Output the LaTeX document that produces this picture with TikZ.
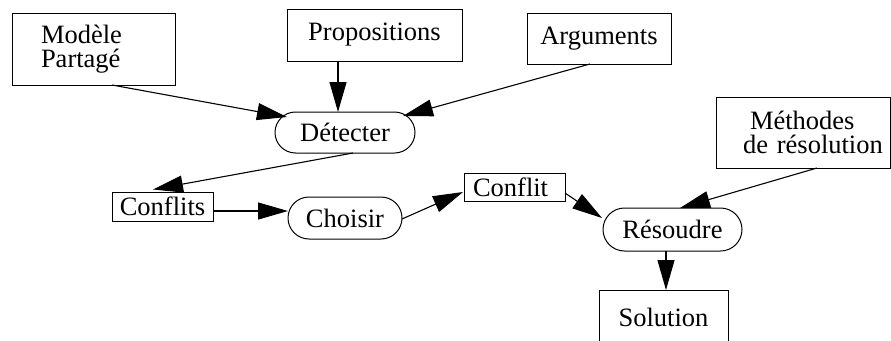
\documentclass[tikz,border=0pt]{standalone}
\usepackage{fontspec}
\setmainfont{Liberation Serif}
\usetikzlibrary{arrows.meta,shapes.misc,calc}
\tikzset{
  lbl/.style={font=\fontsize{26.5}{24}\selectfont},
  databox/.style={lbl,draw,line width=1pt,rectangle,inner sep=0pt},
  actbox/.style={lbl,draw,line width=1pt,rounded rectangle,inner sep=0pt},
  flow/.style={line width=1.1pt,-{Triangle[length=30pt,width=17pt]}}
}
\begin{document}
\begin{tikzpicture}[x=1pt,y=-1pt]
\useasboundingbox (0,0) rectangle (891,340);

% data stores (rectangles)
\node[databox,minimum width=163pt,minimum height=72pt,inner xsep=29pt,text width=105pt,align=left]
  (mod) at (93.5,49) {Modèle\\Partagé};
\node[databox,minimum width=175pt,minimum height=52pt] (prop) at (374.5,35) {Propositions};
\node[databox,minimum width=144pt,minimum height=51pt] (arg) at (599,38.5) {Arguments};
\node[databox,minimum width=101pt,minimum height=29pt] (cfs) at (162.5,206.5) {Conflits};
\node[databox,minimum width=101pt,minimum height=28pt,inner xsep=9pt,text width=83pt,align=left]
  (cf) at (514.5,187) {Conflit};
\node[databox,minimum width=174pt,minimum height=71pt,inner xsep=27pt,text width=120pt,align=left]
  (meth) at (803,132.5) {\hspace*{7pt}Méthodes\\\mbox{de résolution}};
\node[databox,minimum width=129pt,minimum height=55pt] (sol) at (663.5,317.5) {Solution};

% processes (rounded)
\node[actbox,minimum width=140pt,minimum height=41pt] (det) at (345,132.5) {Détecter};
\node[actbox,minimum width=114pt,minimum height=42pt] (cho) at (345,218) {Choisir};
\node[actbox,minimum width=139pt,minimum height=43pt] (res) at (672.5,229.5) {Résoudre};

% flows
\draw[flow] ($(mod)+(18.5,36)$) -- ($(det)+(-58,-15.5)$);
\draw[flow] ($(prop)+(-36.5,26)$) -- ($(det)+(-7,-20.5)$);
\draw[flow] ($(arg)+(-9,25.5)$) -- ($(det)+(58,-16.5)$);
\draw[flow] ($(det)+(8,20.5)$) -- ($(cfs)+(-9.5,-17)$);
\draw[flow] ($(cfs)+(50.5,4.5)$) -- ($(cho)+(-57,-7)$);
\draw[flow] ($(cho)+(57,1)$) -- ($(cf)+(-51.5,5)$);
\draw[flow] ($(cf)+(50.5,6)$) -- ($(res)+(-70.5,-11.5)$);
\draw[flow] ($(meth)+(14,35.5)$) -- ($(res)+(7.5,-21.5)$);
\draw[flow] ($(res)+(-6.5,21.5)$) -- ($(sol)+(2.5,-27.5)$);
\end{tikzpicture}
\end{document}
